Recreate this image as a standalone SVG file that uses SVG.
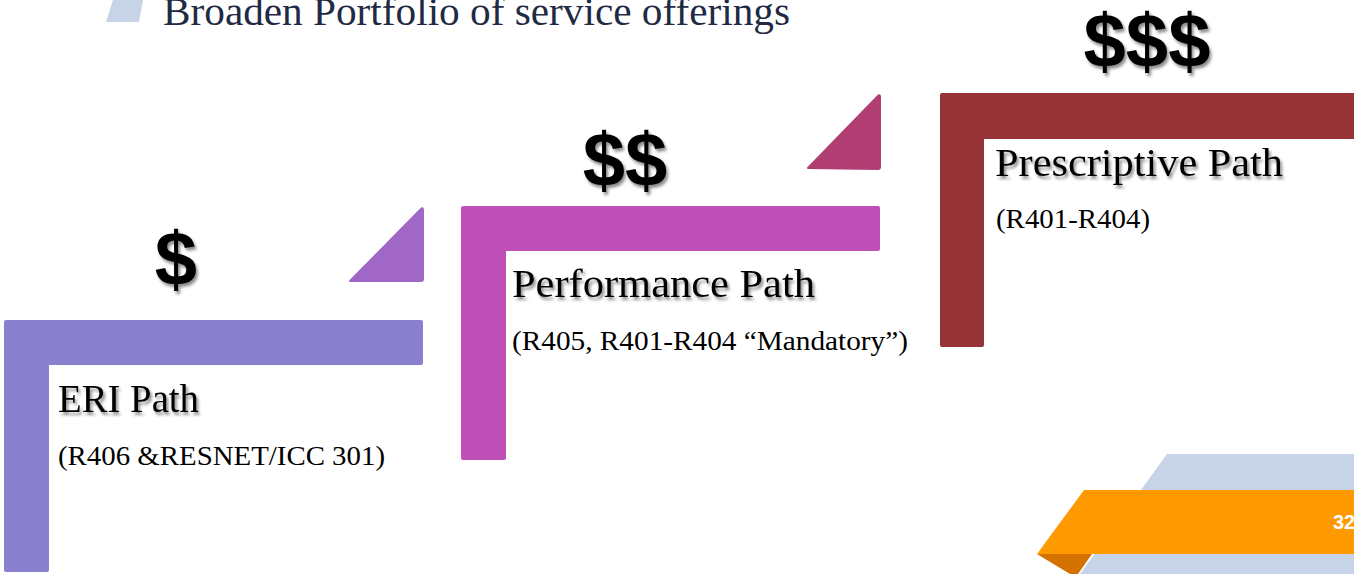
<svg xmlns="http://www.w3.org/2000/svg" width="1354" height="574" viewBox="0 0 1354 574">
  <defs>
    <filter id="shadow" x="-20%" y="-20%" width="140%" height="160%">
      <feDropShadow dx="2" dy="3" stdDeviation="1.8" flood-color="#000000" flood-opacity="0.45"/>
    </filter>
  </defs>
  <style>
    .title { font-family: "Liberation Serif", "Times New Roman", serif; font-size: 40px; fill: #1f2a44; }
    .dollar { font-family: "Liberation Sans", Arial, sans-serif; font-weight: bold; font-size: 76px; fill: #000000; text-anchor: middle; filter: url(#shadow); }
    .head { font-family: "Liberation Serif", "Times New Roman", serif; font-size: 40px; fill: #000000; filter: url(#shadow); }
    .sub { font-family: "Liberation Serif", "Times New Roman", serif; font-size: 27px; fill: #000000; }
    .num { font-family: "Liberation Sans", Arial, sans-serif; font-weight: bold; font-size: 20px; fill: #ffffff; }
  </style>
  <rect x="0" y="0" width="1354" height="574" fill="#ffffff"/>

  <g id="header">
    <polygon points="113,0 143,0 139,22 106,22" fill="#c7d4e7"/>
    <text class="title" x="163" y="25" textLength="627" lengthAdjust="spacingAndGlyphs">Broaden Portfolio of service offerings</text>
  </g>

  <g id="footer">
    <polygon points="1167,454 1354,454 1354,574 1080,574" fill="#c7d4e7"/>
    <polygon points="1037,554 1092,554 1078,574 1070,574" fill="#d37200"/>
    <polygon points="1084,490 1354,490 1354,554 1037,554" fill="#ff9900"/>
    <text class="num" x="1333" y="529">32</text>
  </g>

  <g id="eri">
    <path d="M6,320 H421 Q423,320 423,322 V363 Q423,365 421,365 H49 V570 Q49,572 47,572 H6 Q4,572 4,570 V322 Q4,320 6,320 Z" fill="#8a80d0"/>
    <path d="M350,281 L421,209 Q423,207 423,210 V279 Q423,281 421,281 Z" fill="#a067c6" stroke="#a067c6" stroke-width="2" stroke-linejoin="round"/>
    <text class="dollar" x="176" y="285">$</text>
    <text class="head" x="58" y="412" textLength="141" lengthAdjust="spacingAndGlyphs">ERI Path</text>
    <text class="sub" x="58" y="465" textLength="327" lengthAdjust="spacingAndGlyphs">(R406 &amp;RESNET/ICC 301)</text>
  </g>

  <g id="performance">
    <path d="M464,206 H878 Q880,206 880,208 V249 Q880,251 878,251 H506 V458 Q506,460 504,460 H463 Q461,460 461,458 V208 Q461,206 464,206 Z" fill="#c04fb8"/>
    <path d="M808,168 L878,96 Q880,94 880,97 V167 Q880,169 878,169 Z" fill="#b03e72" stroke="#b03e72" stroke-width="2" stroke-linejoin="round"/>
    <text class="dollar" x="625" y="186">$$</text>
    <text class="head" x="512" y="297" textLength="303" lengthAdjust="spacingAndGlyphs">Performance Path</text>
    <text class="sub" x="512" y="350" textLength="396" lengthAdjust="spacingAndGlyphs">(R405, R401-R404 “Mandatory”)</text>
  </g>

  <g id="prescriptive">
    <path d="M942,93 H1354 V139 H984 V345 Q984,347 982,347 H942 Q940,347 940,345 V95 Q940,93 942,93 Z" fill="#963336"/>
    <text class="dollar" x="1147" y="67">$$$</text>
    <text class="head" x="995" y="176" textLength="288" lengthAdjust="spacingAndGlyphs">Prescriptive Path</text>
    <text class="sub" x="996" y="228" textLength="154" lengthAdjust="spacingAndGlyphs">(R401-R404)</text>
  </g>

  <g id="connectors"></g>
</svg>
